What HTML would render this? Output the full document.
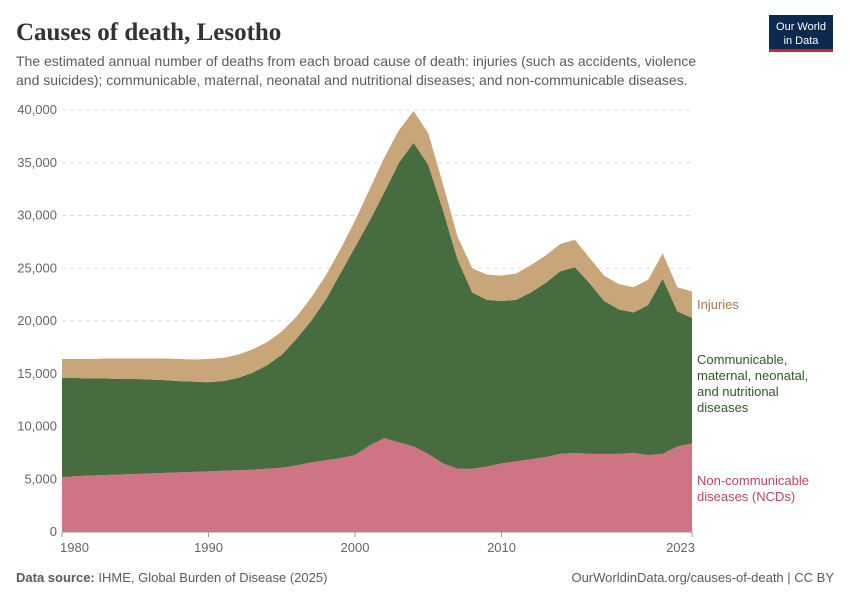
<!DOCTYPE html>
<html><head><meta charset="utf-8"><style>
body{margin:0;background:#fff;font-family:"Liberation Sans",sans-serif;}
svg text{font-family:"Liberation Sans",sans-serif;}
</style></head><body>
<svg id="c" width="850" height="600">
<text x="16" y="40" font-size="25" font-weight="bold" fill="#333" style="font-family:'Liberation Serif',serif">Causes of death, Lesotho</text>
<text x="16" y="66" font-size="14" fill="#5b5b5b">The estimated annual number of deaths from each broad cause of death: injuries (such as accidents, violence</text>
<text x="16" y="85" font-size="14" fill="#5b5b5b">and suicides); communicable, maternal, neonatal and nutritional diseases; and non-communicable diseases.</text>
<g><rect x="769" y="15" width="64" height="37" fill="#0c2a4d"/><rect x="769" y="49" width="64" height="3" fill="#ce261e"/>
<text x="801" y="30" font-size="11" fill="#fff" text-anchor="middle">Our World</text><text x="801" y="44" font-size="11" fill="#fff" text-anchor="middle">in Data</text></g>
<g id="grid"></g><g id="areas"></g><g id="axes"></g>
<text x="697" y="309" font-size="13" fill="#a9774a">Injuries</text>
<g font-size="13" fill="#2f5a26"><text x="697" y="364">Communicable,</text><text x="697" y="380">maternal, neonatal,</text><text x="697" y="396">and nutritional</text><text x="697" y="412">diseases</text></g>
<g font-size="13" fill="#c0445d"><text x="697" y="485">Non-communicable</text><text x="697" y="501">diseases (NCDs)</text></g>
<text x="16" y="582" font-size="13" fill="#5b5b5b"><tspan font-weight="bold">Data source:</tspan> IHME, Global Burden of Disease (2025)</text>
<text x="834" y="582" font-size="13" fill="#5b5b5b" text-anchor="end">OurWorldinData.org/causes-of-death | CC BY</text>
</svg>
<script>
const years=[];for(let y=1980;y<=2023;y++)years.push(y);
const ncd=[5.2,5.3,5.35,5.4,5.45,5.5,5.55,5.6,5.65,5.7,5.75,5.8,5.85,5.9,6.0,6.1,6.3,6.6,6.8,7.0,7.3,8.2,8.9,8.5,8.1,7.4,6.5,6.0,6.0,6.2,6.5,6.7,6.9,7.1,7.4,7.5,7.4,7.4,7.4,7.5,7.3,7.4,8.1,8.4];
const communicable=[9.4,9.3,9.2,9.15,9.05,9.0,8.9,8.8,8.65,8.55,8.45,8.5,8.75,9.2,9.8,10.7,12.0,13.4,15.2,17.5,19.7,21.3,23.3,26.5,28.8,27.4,24.0,19.8,16.7,15.8,15.4,15.3,15.8,16.5,17.3,17.6,16.2,14.5,13.7,13.3,14.2,16.6,12.8,11.9];
const injuries=[1.8,1.8,1.85,1.9,1.95,1.95,2.0,2.05,2.1,2.1,2.2,2.2,2.2,2.2,2.2,2.2,2.1,2.2,2.3,2.3,2.5,3.0,3.3,3.1,3.0,3.0,2.5,2.2,2.3,2.4,2.4,2.5,2.6,2.6,2.6,2.6,2.4,2.4,2.4,2.4,2.4,2.4,2.3,2.5];
const yTicks=[0,5000,10000,15000,20000,25000,30000,35000,40000];
const xTicks=[1980,1990,2000,2010,2023];
const X=y=>62+(y-1980)*(630/43), Y=v=>532-v*(422/40000);
const NS="http://www.w3.org/2000/svg";
const g=document.getElementById('grid'),a=document.getElementById('areas'),ax=document.getElementById('axes');
yTicks.forEach(t=>{const l=document.createElementNS(NS,'line');


l.setAttribute('x1',62);l.setAttribute('x2',692);l.setAttribute('y1',Y(t));l.setAttribute('y2',Y(t));
l.setAttribute('stroke',t?'#ddd':'#999');if(t)l.setAttribute('stroke-dasharray','4,4');g.appendChild(l);
const tx=document.createElementNS(NS,'text');


tx.setAttribute('x',57);tx.setAttribute('y',Y(t)+4);tx.setAttribute('text-anchor','end');tx.setAttribute('font-size','13');tx.setAttribute('fill','#666');
tx.textContent=t.toLocaleString('en-US');ax.appendChild(tx);});
xTicks.forEach(t=>{const tx=document.createElementNS(NS,'text');


tx.setAttribute('y',552);tx.setAttribute('text-anchor',t==2023?'end':t==1980?'start':'middle');
tx.setAttribute('x',t==1980?X(t)-2:t==2023?X(t)+3:X(t));
tx.setAttribute('font-size','13');tx.setAttribute('fill','#666');tx.textContent=t;ax.appendChild(tx);
const tk=document.createElementNS(NS,'line');


tk.setAttribute('x1',X(t));tk.setAttribute('x2',X(t));tk.setAttribute('y1',532);tk.setAttribute('y2',537);tk.setAttribute('stroke','#999');ax.appendChild(tk);});
const series=[[ncd,'#cf7485','area-ncd'],[communicable,'#466c3f','area-communicable'],[injuries,'#c9a57a','area-injuries']];
let base=years.map(()=>0);
series.forEach(([vals,col,name])=>{const top=base.map((b,i)=>b+vals[i]*1000);
let d=years.map((y,i)=>(i?'L':'M')+X(y)+','+Y(top[i])).join('');
for(let i=years.length-1;i>=0;i--)d+='L'+X(years[i])+','+Y(base[i]);
const p=document.createElementNS(NS,'path');


p.setAttribute('d',d+'Z');p.setAttribute('fill',col);a.appendChild(p);base=top;});
</script>
</body></html>
